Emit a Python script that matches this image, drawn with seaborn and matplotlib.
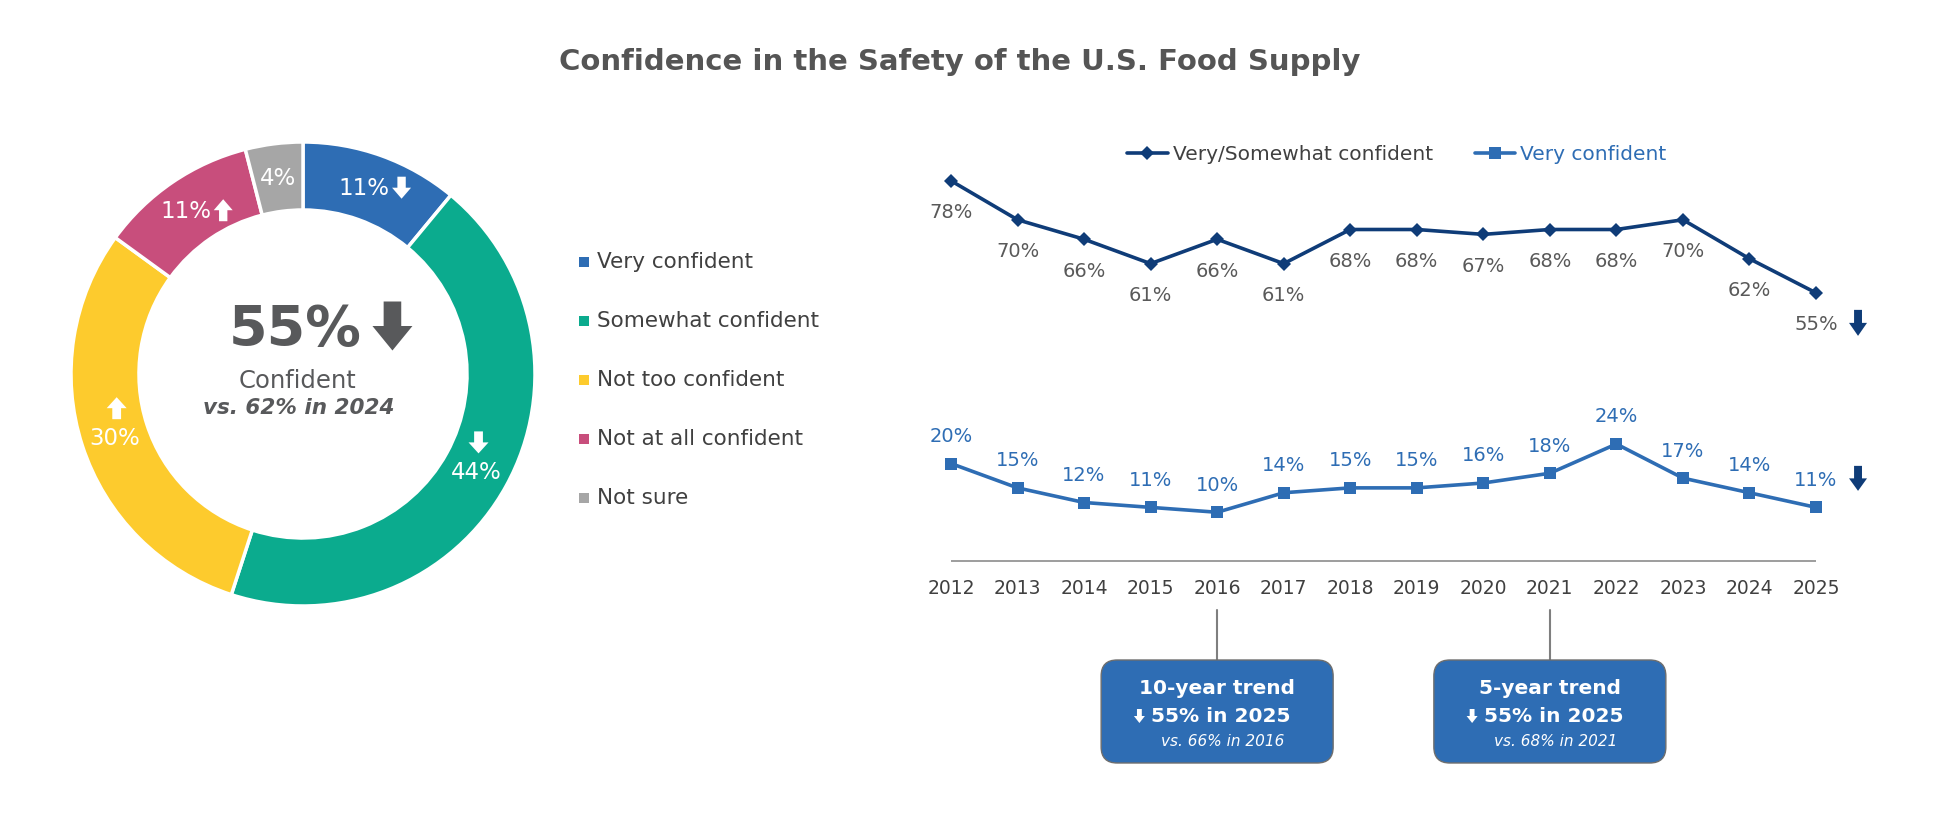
import matplotlib
matplotlib.use("Agg")
import matplotlib.pyplot as plt
import seaborn as sns
import pandas as pd
import numpy as np
from matplotlib.patches import Polygon, FancyBboxPatch, Rectangle
from matplotlib.lines import Line2D

# ---------------- data ----------------
categories = ["Very confident", "Somewhat confident", "Not too confident",
              "Not at all confident", "Not sure"]
shares = [11, 44, 30, 11, 4]
share_change = ["down", "down", "up", "up", None]
cat_colors = ["#2E6DB4", "#0BAB8E", "#FDCB2D", "#C84E7C", "#A6A6A6"]

total_confident = 55
total_prev = 62
prev_year = 2024

years = [2012, 2013, 2014, 2015, 2016, 2017, 2018, 2019, 2020, 2021, 2022, 2023, 2024, 2025]
very_somewhat = [78, 70, 66, 61, 66, 61, 68, 68, 67, 68, 68, 70, 62, 55]
very = [20, 15, 12, 11, 10, 14, 15, 15, 16, 18, 24, 17, 14, 11]
series_names = ["Very/Somewhat confident", "Very confident"]
trend_boxes = [("10-year trend", 2016), ("5-year trend", 2021)]

title = "Confidence in the Safety of the U.S. Food Supply"

# ---------------- style ----------------
sns.set_theme(style="white")
plt.rcParams["font.family"] = ["DejaVu Sans"]

NAVY = "#0F3C78"
BLUE = "#2E6DB4"
TXT = "#595959"
DARK = "#404040"
CENTER = "#58595B"

W, H = 1954, 818
fig = plt.figure(figsize=(W / 100, H / 100), dpi=100)
fig.patch.set_facecolor("white")


def fr(x, y, w, h):
    return [x / W, 1 - (y + h) / H, w / W, h / H]


# ---------------- donut ----------------
pax = fig.add_axes(fr(71, 142, 464, 464))
RING = 0.293
pax.pie(shares, colors=cat_colors, startangle=90, counterclock=False, radius=1,
        wedgeprops=dict(width=RING, edgecolor="white", linewidth=2.5))
pax.set_xlim(-1, 1)
pax.set_ylim(-1, 1)

# ---------------- line chart ----------------
lax = fig.add_axes(fr(917.7, 171, 931.6, 390))
df = pd.DataFrame({
    "year": years * 2,
    "value": very_somewhat + very,
    "series": [series_names[0]] * len(years) + [series_names[1]] * len(years),
})
sns.lineplot(data=df, x="year", y="value", hue="series", style="series",
             palette={series_names[0]: NAVY, series_names[1]: BLUE},
             markers={series_names[0]: "D", series_names[1]: "s"},
             dashes=False, linewidth=2.6, markeredgewidth=0, legend=False, ax=lax)
for ln in lax.lines:
    ln.set_clip_on(False)
    if ln.get_marker() == "D":
        ln.set_markersize(6.8)
    elif ln.get_marker() == "s":
        ln.set_markersize(9)
lax.set_xlim(2011.5, 2025.5)
lax.set_ylim(0, 80)
lax.hlines(0, years[0], years[-1], color="#8C8C8C", lw=1.2, clip_on=False)
for s in lax.spines.values():
    s.set_visible(False)
lax.set_yticks([])
lax.set_xticks(years)
lax.set_xticklabels([str(y) for y in years])
lax.tick_params(axis="x", length=0, pad=13, labelsize=13.5, labelcolor=DARK)
lax.set_xlabel("")
lax.set_ylabel("")
lax.patch.set_alpha(0)

for x, v in zip(years, very_somewhat):
    lax.annotate(f"{v}%", (x, v), xytext=(0, -23), textcoords="offset points",
                 ha="center", va="center", fontsize=14, color=TXT)
for x, v in zip(years, very):
    lax.annotate(f"{v}%", (x, v), xytext=(0, 19.5), textcoords="offset points",
                 ha="center", va="center", fontsize=14, color=BLUE)

leg = lax.legend(
    handles=[Line2D([], [], color=NAVY, lw=2.6, marker="D", ms=6.8, mew=0),
             Line2D([], [], color=BLUE, lw=2.6, marker="s", ms=9, mew=0)],
    labels=series_names, ncol=2, frameon=False, fontsize=14.5, loc="center",
    bbox_to_anchor=(1397 / W, 1 - 155 / H), bbox_transform=fig.transFigure,
    handlelength=2.0, handletextpad=0.25, columnspacing=2.1)
leg.get_texts()[0].set_color(DARK)
leg.get_texts()[1].set_color(BLUE)

# ---------------- overlay (annotations in pixel space) ----------------
ov = fig.add_axes([0, 0, 1, 1])
ov.set_xlim(0, W)
ov.set_ylim(H, 0)
ov.axis("off")
ov.patch.set_alpha(0)

renderer = fig.canvas.get_renderer()


def to_px(ax, x, y):
    d = ax.transData.transform((x, y))
    return d[0], H - d[1]


def text_extent(t):
    bb = t.get_window_extent(renderer)
    return bb.x0, bb.x1


def block_arrow(cx, cy, w, h, direction, color):
    sw = 0.44 * w
    hh = 0.5 * h
    top, bot = cy - h / 2, cy + h / 2
    if direction == "down":
        pts = [(cx - sw / 2, top), (cx + sw / 2, top), (cx + sw / 2, bot - hh),
               (cx + w / 2, bot - hh), (cx, bot), (cx - w / 2, bot - hh),
               (cx - sw / 2, bot - hh)]
    else:
        pts = [(cx - sw / 2, bot), (cx + sw / 2, bot), (cx + sw / 2, top + hh),
               (cx + w / 2, top + hh), (cx, top), (cx - w / 2, top + hh),
               (cx - sw / 2, top + hh)]
    ov.add_patch(Polygon(pts, closed=True, facecolor=color, edgecolor="none", zorder=5))


# title
ov.text(W / 2 - 17, 62, title, ha="center", va="center", fontsize=21,
        fontweight="bold", color="#555555")

# donut labels
layout = ["right", "above", "above", "right", None]
cum = 0
r_mid = 1 - RING / 2
for i, v in enumerate(shares):
    mid = cum + v / 2
    cum += v
    th = np.deg2rad(90 - 360 * mid / 100)
    px, py = to_px(pax, r_mid * np.cos(th), r_mid * np.sin(th))
    lab = f"{v}%"
    if layout[i] == "right":
        t = ov.text(px - 6, py + 1, lab, ha="center", va="center", fontsize=16.5, color="white")
        x0, x1 = text_extent(t)
        block_arrow(x1 + 12, py, 19, 22, share_change[i], "white")
    elif layout[i] == "above":
        ov.text(px, py + 3, lab, ha="center", va="center", fontsize=16.5, color="white")
        block_arrow(px + 2, py - 27, 20, 22, share_change[i], "white")
    else:
        ov.text(px, py + 1, lab, ha="center", va="center", fontsize=16.5, color="white")

# donut centre
cx, cy = to_px(pax, 0, 0)
t = ov.text(cx - 8, cy - 44, f"{total_confident}%", ha="center", va="center",
            fontsize=40, fontweight="bold", color=CENTER)
x0, x1 = text_extent(t)
block_arrow(x1 + 31, cy - 48, 40, 49, "down", CENTER)
ov.text(cx - 5, cy + 7, "Confident", ha="center", va="center", fontsize=17.5, color=CENTER)
ov.text(cx - 4, cy + 34, f"vs. {total_prev}% in {prev_year}", ha="center", va="center",
        fontsize=15.5, fontweight="bold", fontstyle="italic", color=CENTER)

# donut legend
for i, (cat, col) in enumerate(zip(categories, cat_colors)):
    ly = 262 + i * 59
    ov.add_patch(Rectangle((579, ly - 5), 10, 10, facecolor=col, edgecolor="none"))
    ov.text(597, ly, cat, ha="left", va="center", fontsize=15.5, color=DARK)

# arrows next to latest values
px, py = to_px(lax, years[-1], very_somewhat[-1])
block_arrow(px + 42, py + 30, 18, 26, "down", NAVY)
px, py = to_px(lax, years[-1], very[-1])
block_arrow(px + 42, py - 29, 18, 25, "down", NAVY)

# trend boxes
latest = very_somewhat[-1]
for label, yr in trend_boxes:
    bx, _ = to_px(lax, yr, 0)
    ov.plot([bx, bx], [610, 660], color="#7F7F7F", lw=1.5)
    ov.add_patch(FancyBboxPatch((bx - 116, 660), 232, 103,
                                boxstyle="round,pad=0,rounding_size=16",
                                facecolor=BLUE, edgecolor="#6E6E6E", lw=1.0, zorder=3))
    ov.text(bx, 688, label, ha="center", va="center", fontsize=14.5,
            fontweight="bold", color="white", zorder=4)
    t = ov.text(bx + 4, 716, f"{latest}% in {years[-1]}", ha="center", va="center",
                fontsize=14.5, fontweight="bold", color="white", zorder=4)
    x0, x1 = text_extent(t)
    block_arrow(x0 - 12, 716, 11, 14, "down", "white")
    ov.text(bx + 6, 742, f"vs. {very_somewhat[years.index(yr)]}% in {yr}",
            ha="center", va="center", fontsize=11, fontstyle="italic",
            color="white", zorder=4)

fig.savefig("out.png", dpi=100, facecolor="white")
